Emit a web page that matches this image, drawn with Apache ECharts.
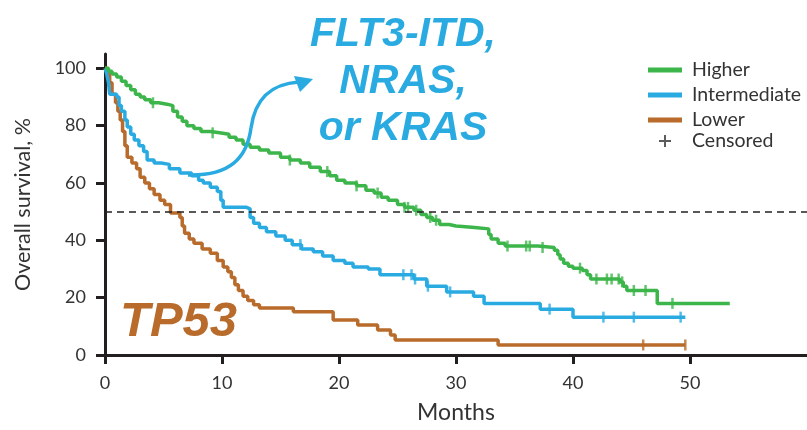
<!DOCTYPE html>
<html>
<head>
<meta charset="utf-8">
<script src="https://cdn.jsdelivr.net/npm/echarts@6/dist/echarts.min.js"></script>
<style>
  html, body { margin: 0; padding: 0; background: #fff; }
  #chart { width: 807px; height: 430px; }
</style>
</head>
<body>
<div id="chart"></div>
<script>
// Kaplan-Meier steps: [month, overall survival %]
const higher = [[0,100],[0.3,99],[0.6,98],[1.0,97],[1.4,95.5],[1.8,94],[2.2,92.5],[2.6,91],[3.0,90],[3.4,89],[3.9,88],
  [4.6,87.5],[5.3,87],[5.8,85],[6.2,83],[6.6,81.5],[7.0,80],[7.6,79],[8.2,78],[9.0,77.5],[9.8,77],[10.6,76],[11.2,75],
  [11.8,73.5],[12.4,72.5],[13.2,71.5],[14.0,70.5],[15.0,69],[15.8,68],[16.7,67],[17.5,65.5],[18.4,64],[19.2,62.5],
  [19.8,61],[20.5,60],[21.5,59],[22.3,57.5],[23.0,56.5],[23.6,55],[24.2,54],[25.0,52.5],[25.6,51.5],[26.4,50.5],
  [27.0,49],[27.5,48],[28.0,47],[28.6,45.5],[29.4,45],[30.0,44.5],[31.6,44],[32.8,42],[33.0,40.5],[33.6,39],[34.2,38],
  [37.0,37.5],[38.4,36.5],[38.7,35],[38.9,33.5],[39.2,32],[39.6,31],[40.0,30.3],[40.8,29.5],[41.2,28],[41.5,26.5],
  [44.0,25.5],[44.3,24],[44.6,22.5],[47.2,18],[53.4,18]];
const intermediate = [[0,100],[0.15,98],[0.3,95],[0.4,91],[1.0,90],[1.2,87],[1.4,85],[1.7,82],[1.9,79.5],[2.2,77],
  [2.5,75],[2.9,73],[3.3,71],[3.6,68],[4.2,67],[4.8,66.5],[5.5,65],[6.4,63.5],[7.4,62.5],[8.0,61],[8.4,60],[9.0,58.5],
  [9.6,57],[9.9,54],[10.1,51.5],[12.1,51],[12.4,48],[12.7,46],[13.2,44.5],[13.8,43],[14.6,41.5],[15.4,40],[16.0,38.5],
  [16.8,37],[17.8,36],[18.6,34.5],[19.5,33],[20.5,32],[21.2,30.7],[22.5,30],[23.5,28],[26.4,26.5],[27.5,24],[29.2,22],
  [31.5,20.5],[32.4,18],[37.2,16],[40.0,13.2],[49.6,13.2]];
const lower = [[0,100],[0.2,98],[0.4,95],[0.6,91],[0.9,88],[1.1,85],[1.3,82],[1.5,78],[1.7,73],[1.9,69],[2.3,67],
  [2.7,65],[3.0,62],[3.4,60],[3.8,58],[4.2,56],[4.7,54],[5.1,52.5],[5.6,49.5],[6.4,48],[6.6,45],[6.8,42.5],[7.2,40.5],
  [7.6,39],[8.3,37],[9.0,35.5],[9.6,33],[10.1,30.7],[10.5,29],[10.8,27],[11.1,24.5],[11.4,22.5],[11.8,20.5],[12.2,19],
  [12.7,17.5],[13.2,16.4],[16.1,15.1],[19.5,12.2],[21.6,10.5],[23.3,8.7],[24.4,7],[24.8,5.2],[33.6,3.5],[49.6,3.5]];

// censoring times (months)
const higherCens = [4.1, 9.2, 15.8, 19.0, 21.5, 23.3, 25.6, 25.9, 26.6, 27.8, 28.3, 34.4, 36.0, 36.3, 37.4, 40.6,
  42.0, 42.9, 43.3, 43.9, 44.2, 45.2, 46.2, 48.5];
const intermediateCens = [16.7, 25.5, 26.2, 26.5, 27.6, 29.5, 38.0, 42.6, 45.2, 49.2];
const lowerCens = [46.0, 49.6];

const xTicks = [0, 10, 20, 30, 40, 50];
const yTicks = [0, 20, 40, 60, 80, 100];

const GREEN = '#3cb54a', BLUE = '#29abe2', BROWN = '#b86b2b', INK = '#231f20';
const PLUS = 'path://M5,0h2v5h5v2h-5v5h-2v-5h-5v-2h5z';
const FONT = 'Lato';

// survival level of a step curve at time t
function survAt(curve, t) {
  let v = curve[0][1];
  for (const p of curve) { if (p[0] <= t) v = p[1]; }
  return v;
}
function censPoints(curve, times) {
  return times.map(t => [t, survAt(curve, t)]);
}

const chart = echarts.init(document.getElementById('chart'));

const curveSeries = (name, data, color) => ({
  name, type: 'line', step: 'end', data, showSymbol: false, symbol: 'none',
  lineStyle: { width: 3.5, color }, itemStyle: { color }, z: 3
});
const censSeries = (name, data, color) => ({
  name, type: 'scatter', data, symbol: 'rect', symbolSize: [2.5, 11],
  itemStyle: { color }, z: 4, silent: true
});

const hg = curveSeries('Higher', higher, GREEN);
hg.markLine = {
  silent: true, symbol: 'none', label: { show: false },
  lineStyle: { type: [7, 5], color: '#222', width: 1.5 },
  data: [{ yAxis: 50 }]
};

chart.setOption({
  animation: false,
  grid: { left: 105, right: 0, top: 54, bottom: 75 },
  xAxis: {
    type: 'value', min: 0, max: 60,
    name: 'Months', nameLocation: 'middle', nameGap: 46,
    nameTextStyle: { fontFamily: FONT, fontSize: 23, color: '#333' },
    axisLine: { lineStyle: { color: INK, width: 3 } },
    axisTick: { length: 9, lineStyle: { color: INK, width: 3 }, customValues: xTicks },
    axisLabel: { customValues: xTicks, margin: 19, fontFamily: FONT, fontSize: 18, color: '#333' },
    splitLine: { show: false }
  },
  yAxis: {
    type: 'value', min: 0, max: 105,
    name: 'Overall survival, %', nameLocation: 'middle', nameGap: 71,
    nameTextStyle: { fontFamily: FONT, fontSize: 21.5, color: '#333' },
    axisLine: { lineStyle: { color: INK, width: 3 } },
    axisTick: { length: 9, lineStyle: { color: INK, width: 3 }, customValues: yTicks },
    axisLabel: { customValues: yTicks, margin: 19, fontFamily: FONT, fontSize: 18, color: '#333' },
    splitLine: { show: false }
  },
  legend: [{
    left: 648, top: 60, orient: 'vertical', padding: 0, itemGap: 5,
    itemWidth: 34, itemHeight: 5, icon: 'rect', selectedMode: false,
    textStyle: { fontFamily: FONT, fontSize: 19.5, lineHeight: 19, color: '#333', padding: [0, 0, 0, 5] },
    data: ['Higher', 'Intermediate', 'Lower']
  }, {
    left: 659, top: 131, orient: 'vertical', padding: 0,
    itemWidth: 12, itemHeight: 12, selectedMode: false,
    textStyle: { fontFamily: FONT, fontSize: 19.5, lineHeight: 19, color: '#333', padding: [0, 0, 0, 16] },
    data: [{ name: 'Censored', icon: PLUS }]
  }],
  graphic: [
    {
      type: 'text', x: 403, y: 82, z: 10,
      style: {
        text: 'FLT3-ITD,\nNRAS,\nor KRAS', align: 'center', verticalAlign: 'middle',
        font: 'italic bold 41px "Liberation Sans"', lineHeight: 47, fill: BLUE
      }
    },
    {
      type: 'text', x: 120, y: 322, z: 10,
      style: { text: 'TP53', verticalAlign: 'middle', font: 'italic bold 49px "Liberation Sans"', fill: BROWN }
    },
    {
      type: 'bezierCurve', z: 10,
      shape: { x1: 188, y1: 175, cpx1: 230, cpy1: 176, cpx2: 247, cpy2: 158, x2: 251, y2: 128 },
      style: { stroke: BLUE, lineWidth: 3.5, fill: null }
    },
    {
      type: 'bezierCurve', z: 10,
      shape: { x1: 251, y1: 128, cpx1: 255, cpy1: 99, cpx2: 270, cpy2: 84, x2: 299, y2: 82 },
      style: { stroke: BLUE, lineWidth: 3.5, fill: null }
    },
    {
      type: 'polygon', z: 10,
      shape: { points: [[313, 79], [294, 76], [300, 92]] },
      style: { fill: BLUE }
    }
  ],
  series: [
    curveSeries('Lower', lower, BROWN),
    curveSeries('Intermediate', intermediate, BLUE),
    hg,
    censSeries('Lower censored', censPoints(lower, lowerCens), BROWN),
    censSeries('Intermediate censored', censPoints(intermediate, intermediateCens), BLUE),
    censSeries('Higher censored', censPoints(higher, higherCens), GREEN),
    { name: 'Censored', type: 'scatter', data: [], symbol: PLUS, itemStyle: { color: '#333' } }
  ]
});
</script>
</body>
</html>
